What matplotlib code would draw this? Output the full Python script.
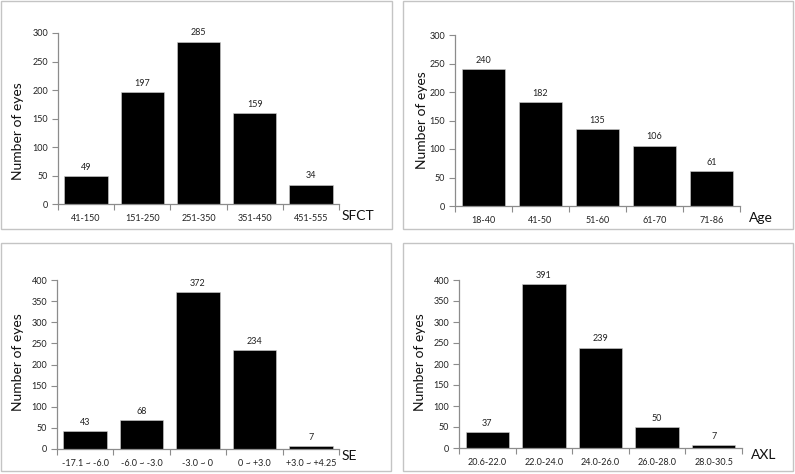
import numpy as np
import matplotlib
matplotlib.use("Agg")
import matplotlib.pyplot as plt
from matplotlib.patches import Rectangle

plt.rcParams["font.family"] = ["Lato", "DejaVu Sans"]

W, H = 795, 474

# ── data ────────────────────────────────────────────────────────────────
sfct_bins = ["41-150", "151-250", "251-350", "351-450", "451-555"]
sfct_counts = [49, 197, 285, 159, 34]

age_bins = ["18-40", "41-50", "51-60", "61-70", "71-86"]
age_counts = [240, 182, 135, 106, 61]

se_bins = ["-17.1 ~ -6.0", "-6.0 ~ -3.0", "-3.0 ~ 0", "0 ~ +3.0", "+3.0 ~ +4.25"]
se_counts = [43, 68, 372, 234, 7]

axl_bins = ["20.6-22.0", "22.0-24.0", "24.0-26.0", "26.0-28.0", "28.0-30.5"]
axl_counts = [37, 391, 239, 50, 7]

# panel layout in pixels: frame box, axes box (left, right, top, bottom),
# y-label centre, x-label centre
panels = [
    dict(cats=sfct_bins, vals=sfct_counts, name="SFCT", ymax=300,
         frame=(1, 392, 1, 229), axes=(58, 339, 33, 204),
         ylab=(18, 131), xlab=(358, 216)),
    dict(cats=age_bins, vals=age_counts, name="Age", ymax=300,
         frame=(403, 793, 1, 229), axes=(455, 740, 35, 206),
         ylab=(422, 120), xlab=(761, 218)),
    dict(cats=se_bins, vals=se_counts, name="SE", ymax=400,
         frame=(1, 391, 243, 471), axes=(57, 339, 280, 449),
         ylab=(18, 362), xlab=(349, 456)),
    dict(cats=axl_bins, vals=axl_counts, name="AXL", ymax=400,
         frame=(403, 793, 243, 471), axes=(459, 742, 280, 448),
         ylab=(420, 362), xlab=(764, 455)),
]

AXIS_GREY = "#8c8c8c"
FRAME_GREY = "#c4c4c4"

fig = plt.figure(figsize=(W / 100, H / 100), dpi=100)

for p in panels:
    fl, fr, ft, fb = p["frame"]
    fig.patches.append(Rectangle((fl / W, 1 - fb / H), (fr - fl) / W, (fb - ft) / H,
                                 transform=fig.transFigure, fill=False,
                                 edgecolor=FRAME_GREY, lw=1.0))

    l, r, t, b = p["axes"]
    ax = fig.add_axes([l / W, 1 - b / H, (r - l) / W, (b - t) / H])
    x = np.arange(len(p["cats"]))
    ax.bar(x, p["vals"], width=0.77, color="black", edgecolor="#d0d0d0", linewidth=0.4)
    for xi, v in zip(x, p["vals"]):
        ax.annotate(str(v), (xi, v), xytext=(0, 3), textcoords="offset points",
                    ha="center", va="bottom", fontsize=6.5, color="#222222")

    ax.set_xlim(-0.5, len(p["cats"]) - 0.5)
    ax.set_ylim(0, p["ymax"])
    ax.set_yticks(np.arange(0, p["ymax"] + 1, 50))
    ax.set_xticks(x)
    ax.set_xticklabels(p["cats"])
    ax.set_xticks(np.arange(-0.5, len(p["cats"]), 1.0), minor=True)
    ax.tick_params(axis="x", which="major", length=0, pad=7, labelsize=6.5, labelcolor="#222222")
    ax.tick_params(axis="x", which="minor", length=4, color=AXIS_GREY, width=0.8)
    ax.tick_params(axis="y", length=4, color=AXIS_GREY, width=0.8, labelsize=6.5,
                   labelcolor="#222222", pad=3)

    for s in ("top", "right"):
        ax.spines[s].set_visible(False)
    for s in ("left", "bottom"):
        ax.spines[s].set_color(AXIS_GREY)
        ax.spines[s].set_linewidth(0.9)

    yx, yy = p["ylab"]
    fig.text(yx / W, 1 - yy / H, "Number of eyes", rotation=90, ha="center",
             va="center", fontsize=10, color="#111111")
    xx, xy = p["xlab"]
    fig.text(xx / W, 1 - xy / H, p["name"], ha="center", va="center",
             fontsize=10, color="#111111")

fig.savefig("out.png", dpi=100)
